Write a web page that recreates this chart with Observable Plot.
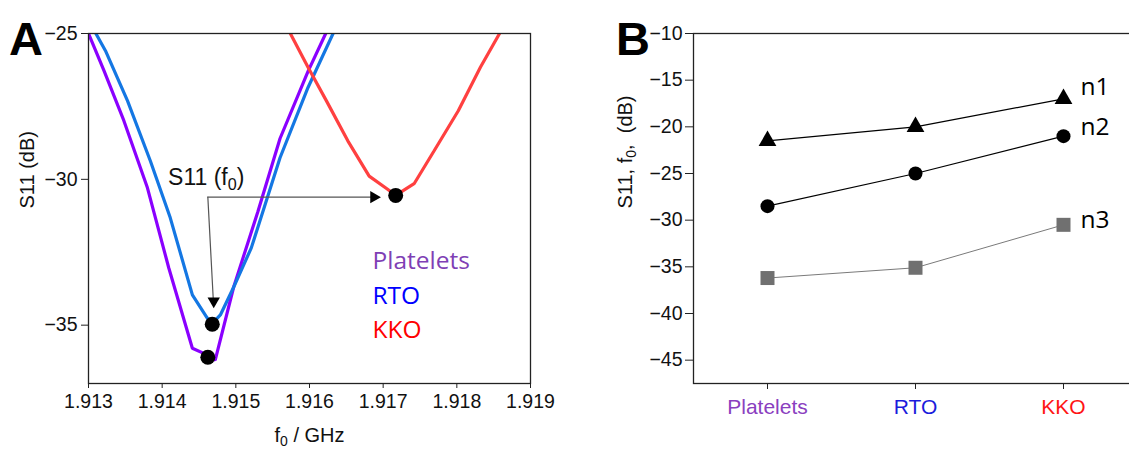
<!DOCTYPE html>
<html><head><meta charset="utf-8">
<script src="https://cdn.jsdelivr.net/npm/d3@7"></script>
<script src="https://cdn.jsdelivr.net/npm/@observablehq/plot@0.6"></script>
<style>
html,body{margin:0;padding:0;background:#fff;overflow:hidden;width:1129px;height:450px;}
#wrap{position:relative;width:1129px;height:450px;overflow:hidden;background:#fff;}
.panel{position:absolute;top:0;}
.panel svg{max-width:none !important;}
.letter{position:absolute;font-family:"Liberation Sans",Arial,sans-serif;font-weight:bold;font-size:47px;line-height:1;color:#000;}
</style></head><body>
<div id="wrap">
  <div id="A" class="panel" style="left:0px;width:560px"></div>
  <div id="B" class="panel" style="left:560px;width:600px"></div>
  <div class="letter" style="left:9px;top:15px">A</div>
  <div class="letter" style="left:616px;top:15px">B</div>
</div>
<script>
// ---------- DATA ----------
// Panel A: S11 spectra (f0 in GHz, S11 in dB)
const plateletsF   = [1.91300, 1.91321, 1.91348, 1.91380, 1.91409, 1.91441, 1.91461, 1.91472, 1.91497, 1.91530, 1.91560, 1.91598, 1.91622];
const plateletsS11 = [-25.0, -26.27, -27.99, -30.29, -33.04, -35.79, -36.02, -36.2, -33.7, -31.1, -28.6, -26.3, -25.0];
const rtoF   = [1.91310, 1.91323, 1.91353, 1.91384, 1.91411, 1.91441, 1.91461, 1.91468, 1.91479, 1.91497, 1.91521, 1.91560, 1.91598, 1.91632];
const rtoS11 = [-25.0, -25.59, -27.31, -29.37, -31.32, -33.96, -34.75, -34.95, -34.65, -33.7, -32.35, -29.26, -26.85, -25.0];
const kkoF   = [1.91574, 1.91598, 1.91623, 1.91652, 1.91681, 1.91706, 1.91717, 1.91742, 1.91769, 1.91802, 1.91832, 1.91858];
const kkoS11 = [-25.0, -26.16, -27.31, -28.68, -29.89, -30.34, -30.55, -30.15, -29.03, -27.65, -26.16, -25.0];
// resonance minima S11(f0)
const minF   = [1.91462, 1.91468, 1.91717];
const minS11 = [-36.1, -34.97, -30.55];
// annotation arrows (from corner to RTO min and KKO min)
const arrowF1 = [1.91462, 1.91462];
const arrowS1 = [-30.61, -30.61];
const arrowF2 = [1.91470, 1.91697];
const arrowS2 = [-34.42, -30.61];
const noteText = "S11 (f₀)";
const noteF = 1.91408;
const noteS11 = -29.95;

const fTicks = [1.913, 1.914, 1.915, 1.916, 1.917, 1.918, 1.919];
const s11TicksA = [-25, -30, -35];

// Panel B: S11 at f0 per sample and group
const categories = ["Platelets", "RTO", "KKO"];
const seriesNames = ["n1", "n2", "n3"];
const n1 = [-21.5, -20.0, -17.0];
const n2 = [-28.5, -25.0, -21.0];
const n3 = [-36.2, -35.1, -30.5];
const s11TicksB = [-10, -15, -20, -25, -30, -35, -40, -45];

// ---------- STYLE ----------
const FONT = "'Liberation Sans', Arial, sans-serif";
const LEGFONT = "'Open Sans', 'Noto Sans', sans-serif";
const lineColors = ["#8a00ff", "#1477e3", "#ff4040"];
const legendColors = ["#7f3fb5", "#0000ff", "#ff0000"];
const catColors = ["#8a40bf", "#1c1cdc", "#ff1414"];

// ---------- PANEL A ----------
const toRows = (F, S) => F.map((f, i) => ({f, s: S[i]}));
const curves = [toRows(plateletsF, plateletsS11), toRows(rtoF, rtoS11), toRows(kkoF, kkoS11)];
const minima = toRows(minF, minS11);
const arrows = arrowF1.map((f, i) => ({x1: f, y1: arrowS1[i], x2: arrowF2[i], y2: arrowS2[i], horiz: arrowS1[i] === arrowS2[i]}));
const headR = 4.6;
const headOff = 2 * Math.sqrt(Math.PI * headR * headR / (3 * Math.sqrt(3)));

const plotA = Plot.plot({
  width: 560, height: 450,
  marginLeft: 88, marginRight: 30, marginTop: 33, marginBottom: 67,
  x: {domain: [1.913, 1.919]},
  y: {domain: [-37, -25]},
  style: {fontFamily: FONT, fontSize: "19.5px", color: "#111", background: "white", overflow: "visible"},
  marks: [
    ...curves.map((c, i) => Plot.line(c, {x: "f", y: "s", stroke: lineColors[i], strokeWidth: 3.2, clip: true, strokeLinejoin: "miter"})),
    Plot.frame({stroke: "#222", strokeWidth: 1.3}),
    Plot.axisX({ticks: fTicks, tickFormat: d3.format(".3f"), tickSize: 5, tickPadding: 6, label: null, stroke: "#222"}),
    Plot.axisY({ticks: s11TicksA, tickSize: 7, tickPadding: 4, label: null, stroke: "#222"}),
    Plot.arrow(arrows, {x1: "x1", y1: "y1", x2: "x2", y2: "y2", stroke: "#555", strokeWidth: 1.2, headLength: 0, insetEnd: 6}),
    Plot.dot(arrows.filter(d => d.horiz), {x: "x2", y: "y2", symbol: "triangle", r: headR, rotate: 90, dx: -headOff, fill: "#000", stroke: "none"}),
    Plot.dot(arrows.filter(d => !d.horiz), {x: "x2", y: "y2", symbol: "triangle", r: headR, rotate: 180, dy: -headOff, fill: "#000", stroke: "none"}),
    Plot.dot(minima, {x: "f", y: "s", r: 7.5, fill: "#000"}),
    Plot.text([noteText], {x: () => noteF, y: () => noteS11, text: d => d, textAnchor: "start", lineAnchor: "middle", fontSize: 23, fill: "#111"}),
    ...categories.map((c, i) => Plot.text([c], {frameAnchor: "top-left", dx: 284, dy: 228 + i * 34.5, text: d => d, fill: legendColors[i], fontFamily: LEGFONT, fontSize: 24.5, textAnchor: "start", lineAnchor: "middle"})),
    Plot.text(["f₀ / GHz"], {frameAnchor: "bottom", dy: 52, text: d => d, lineAnchor: "middle", fontSize: 20}),
    Plot.text(["S11 (dB)"], {frameAnchor: "left", dx: -61, rotate: -90, text: d => d, lineAnchor: "middle", fontSize: 20})
  ]
});
document.getElementById("A").appendChild(plotA);

// ---------- PANEL B ----------
const seriesVals = [n1, n2, n3];
const seriesRows = seriesVals.map((vals, k) => categories.map((c, i) => ({cat: c, v: vals[i], name: seriesNames[k]})));
const symbols = ["triangle", "circle", "square"];
const symR = [6.6, 7, 7.9];
const sColors = ["#000", "#000", "#707070"];
const lColors = ["#000", "#000", "#7a7a7a"];
const labelDy = [-11.5, -9.5, -5];

const plotB = Plot.plot({
  width: 600, height: 450,
  marginLeft: 133, marginRight: 23, marginTop: 33, marginBottom: 67,
  x: {type: "point", domain: categories, padding: 0.5},
  y: {domain: [-47.5, -10]},
  color: {type: "identity"},
  style: {fontFamily: FONT, fontSize: "19.5px", color: "#111", background: "white", overflow: "visible"},
  marks: [
    Plot.frame({stroke: "#222", strokeWidth: 1.3}),
    Plot.axisY({ticks: s11TicksB, tickSize: 8, tickPadding: 3, label: null, stroke: "#222"}),
    Plot.axisX({ticks: categories, tickSize: 6, tickFormat: () => "", label: null, stroke: "#222"}),
    Plot.text(categories, {x: d => d, frameAnchor: "bottom", dy: 24, text: d => d, fill: (d, i) => catColors[i], lineAnchor: "middle", fontSize: 21}),
    ...seriesRows.map((rows, k) => Plot.line(rows, {x: "cat", y: "v", stroke: lColors[k], strokeWidth: k === 2 ? 1 : 1.2})),
    ...seriesRows.map((rows, k) => Plot.dot(rows, {x: "cat", y: "v", symbol: symbols[k], r: symR[k], fill: sColors[k], stroke: "none"})),
    ...seriesRows.map((rows, k) => Plot.text([rows[2]], {x: "cat", y: "v", text: "name", dx: 17, dy: labelDy[k], textAnchor: "start", lineAnchor: "middle", fontFamily: LEGFONT, fontSize: 24.5, fill: "#000"})),
    Plot.text(["S11, f₀,\u00a0 (dB)"], {frameAnchor: "left", dx: -68, rotate: -90, text: d => d, lineAnchor: "middle", fontSize: 20})
  ]
});
document.getElementById("B").appendChild(plotB);

// ---------- subscripts ----------
document.querySelectorAll("svg text").forEach(t => {
  if (t.childElementCount === 0 && t.textContent.includes("₀")) {
    const parts = t.textContent.split("₀");
    t.textContent = "";
    const NS = "http://www.w3.org/2000/svg";
    parts.forEach((p, i) => {
      const s = document.createElementNS(NS, "tspan");
      s.textContent = p;
      if (i > 0) s.setAttribute("dy", "-0.22em");
      t.appendChild(s);
      if (i < parts.length - 1) {
        const sub = document.createElementNS(NS, "tspan");
        sub.textContent = "0";
        sub.setAttribute("font-size", "0.7em");
        sub.setAttribute("dy", "0.32em");
        t.appendChild(sub);
      }
    });
  }
});
</script>
</body></html>
